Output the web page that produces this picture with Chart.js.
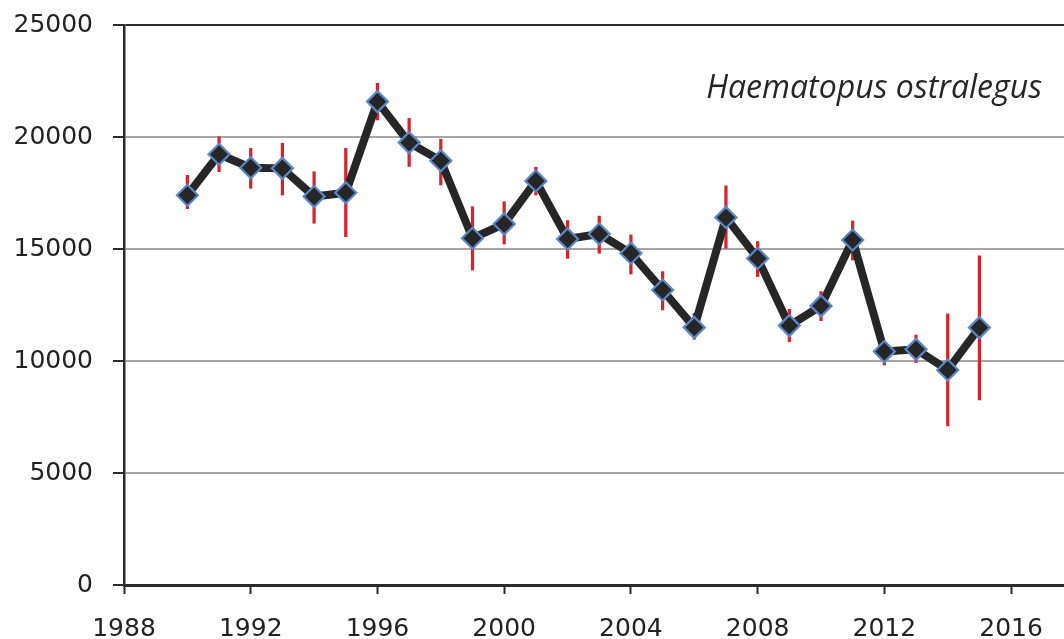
<!DOCTYPE html>
<html>
<head>
<meta charset="utf-8">
<script src="https://cdn.jsdelivr.net/npm/chart.js@4/dist/chart.umd.min.js"></script>
<style>
  html, body { margin: 0; padding: 0; background: #ffffff; }
  #wrap { width: 1064px; height: 639px; }
</style>
</head>
<body>
<div id="wrap"><canvas id="c" width="1064" height="639"></canvas></div>
<script>
// Annual counts of oystercatchers with their error ranges
const years = [1990, 1991, 1992, 1993, 1994, 1995, 1996, 1997, 1998, 1999, 2000, 2001, 2002,
               2003, 2004, 2005, 2006, 2007, 2008, 2009, 2010, 2011, 2012, 2013, 2014, 2015];
const counts = [17400, 19230, 18630, 18600, 17340, 17510, 21580, 19750, 18940, 15480, 16120, 18040, 15450,
                15670, 14810, 13170, 11500, 16410, 14580, 11580, 12460, 15400, 10420, 10520, 9600, 11490];
const upper = [18290, 20010, 19490, 19720, 18450, 19490, 22400, 20830, 19900, 16890, 17110, 18650, 16270,
               16470, 15630, 13990, 12130, 17820, 15330, 12310, 13100, 16250, 10790, 11160, 12100, 14690];
const lower = [16800, 18450, 17710, 17410, 16150, 15550, 20760, 18680, 17860, 14060, 15220, 17410, 14580,
               14810, 13880, 12280, 10970, 15030, 13770, 10860, 11800, 14510, 9820, 9930, 7100, 8260];
const yTicks = [0, 5000, 10000, 15000, 20000, 25000];
const xTicks = [1988, 1992, 1996, 2000, 2004, 2008, 2012, 2016];
const speciesName = 'Haematopus ostralegus';

const axisFont = { family: 'DejaVu Sans', size: 25 };
const dark = '#2b2b2b';

// Species name written inside the plot, top right
const speciesLabel = {
  id: 'speciesLabel',
  afterDraw(chart) {
    const ctx = chart.ctx;
    ctx.save();
    let size = 31;
    ctx.font = 'italic ' + size + 'px "Open Sans"';
    const w = ctx.measureText(speciesName).width;
    size = size * 336 / w;
    ctx.font = 'italic ' + size.toFixed(2) + 'px "Open Sans"';
    ctx.fillStyle = '#262626';
    ctx.textAlign = 'right';
    ctx.textBaseline = 'alphabetic';
    ctx.fillText(speciesName, 1042, 98);
    ctx.restore();
  }
};

new Chart(document.getElementById('c'), {
  type: 'line',
  data: {
    datasets: [
      {
        type: 'line',
        label: 'count',
        data: years.map((y, i) => ({ x: y, y: counts[i] })),
        borderColor: '#262626',
        borderWidth: 8,
        pointStyle: 'rectRot',
        pointRadius: 10.5,
        pointBackgroundColor: '#262626',
        pointBorderColor: '#5b87c6',
        pointBorderWidth: 2.2,
        tension: 0,
        order: 1
      },
      {
        type: 'bar',
        label: 'range',
        data: years.map((y, i) => ({ x: y, y: [lower[i], upper[i]] })),
        backgroundColor: '#d6242c',
        borderWidth: 0,
        barThickness: 2.6,
        grouped: false,
        order: 2
      }
    ]
  },
  options: {
    responsive: false,
    animation: false,
    layout: { autoPadding: false, padding: { top: 25, left: 0, right: 0, bottom: 0 } },
    plugins: { legend: { display: false }, tooltip: { enabled: false }, title: { display: false } },
    scales: {
      x: {
        type: 'linear',
        min: 1988,
        max: 2017.67,
        offset: false,
        afterBuildTicks(scale) { scale.ticks = xTicks.map(v => ({ value: v })); },
        afterFit(scale) { scale.height = 54; scale.paddingLeft = 0; scale.paddingRight = 0; },
        ticks: { font: axisFont, color: '#222222', padding: 20, maxRotation: 0, autoSkip: false,
                 callback: v => String(v) },
        grid: { drawOnChartArea: false, drawTicks: true, tickLength: 9, tickColor: dark, tickWidth: 2, offset: false },
        border: { display: true, color: dark, width: 3 }
      },
      y: {
        min: 0,
        max: 25000,
        afterBuildTicks(scale) { scale.ticks = yTicks.map(v => ({ value: v })); },
        afterFit(scale) { scale.width = 124; scale.paddingTop = 0; scale.paddingBottom = 0; },
        ticks: { font: axisFont, color: '#222222', padding: 20, callback: v => String(v) },
        grid: {
          color: ctx => (ctx.tick && ctx.tick.value === 25000) ? dark : '#a6a6a6',
          lineWidth: 2,
          tickLength: 11,
          tickColor: dark,
          tickWidth: 2
        },
        border: { display: true, color: dark, width: 2.5 }
      }
    }
  },
  plugins: [speciesLabel]
});
</script>
</body>
</html>
